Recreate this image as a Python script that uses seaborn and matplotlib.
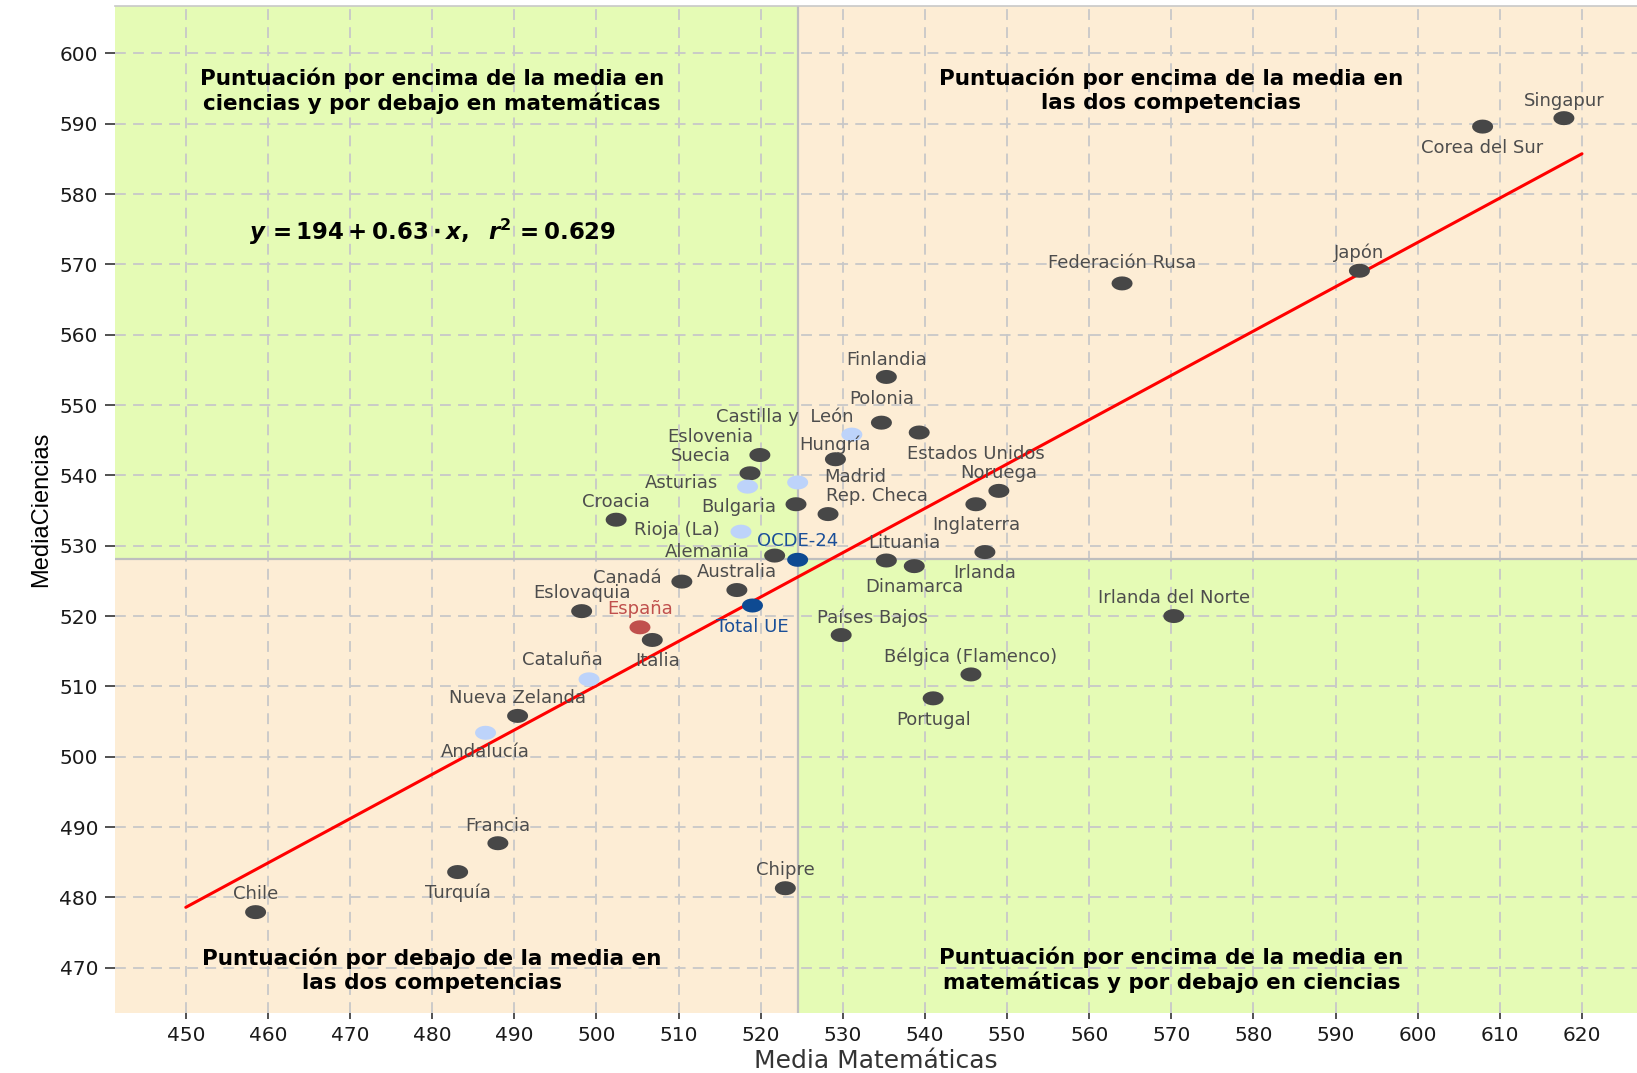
import numpy as np
import pandas as pd
import matplotlib
matplotlib.use('Agg')
import matplotlib.pyplot as plt
from matplotlib.path import Path
from matplotlib.patches import Rectangle
import seaborn as sns

# --- datos (TIMSS: media matemáticas / media ciencias) ---
paises = ['Singapur', 'Corea del Sur', 'Japón', 'Federación Rusa', 'Finlandia',
          'Polonia', 'Estados Unidos', 'Castilla y  León', 'Eslovenia', 'Hungría',
          'Suecia', 'Asturias', 'Madrid', 'Noruega', 'Inglaterra', 'Bulgaria',
          'Rep. Checa', 'Croacia', 'Rioja (La)', 'OCDE-24', 'Alemania', 'Lituania',
          'Irlanda', 'Dinamarca', 'Canadá', 'Australia', 'Eslovaquia',
          'Irlanda del Norte', 'Total UE', 'España', 'Italia', 'Países Bajos',
          'Cataluña', 'Bélgica (Flamenco)', 'Portugal', 'Nueva Zelanda', 'Andalucía',
          'Francia', 'Turquía', 'Chipre', 'Chile']
media_mat = [617.8, 607.9, 592.9, 564.0, 535.3, 534.7, 539.3, 531.1, 519.9, 529.1,
             518.7, 518.4, 524.5, 549.0, 546.2, 524.3, 528.2, 502.4, 517.6, 524.5,
             521.7, 535.3, 547.3, 538.7, 510.4, 517.1, 498.2, 570.3, 519.0, 505.3,
             506.8, 529.8, 499.1, 545.6, 541.0, 490.4, 486.5, 488.0, 483.1, 523.0,
             458.5]
media_cien = [590.8, 589.6, 569.1, 567.3, 554.0, 547.5, 546.1, 545.8, 542.9, 542.3,
              540.3, 538.4, 539.0, 537.8, 535.9, 535.9, 534.5, 533.7, 532.0, 528.0,
              528.6, 527.9, 529.1, 527.1, 524.9, 523.7, 520.7, 520.0, 521.5, 518.4,
              516.6, 517.3, 511.0, 511.7, 508.3, 505.8, 503.4, 487.7, 483.6, 481.3,
              477.9]
grupo = ['pais', 'pais', 'pais', 'pais', 'pais', 'pais', 'pais', 'region', 'pais', 'pais',
         'pais', 'region', 'region', 'pais', 'pais', 'pais', 'pais', 'pais', 'region', 'media',
         'pais', 'pais', 'pais', 'pais', 'pais', 'pais', 'pais', 'pais', 'media', 'espana',
         'pais', 'pais', 'region', 'pais', 'pais', 'pais', 'region', 'pais', 'pais', 'pais',
         'pais']

# recta de regresión y medias OCDE-24 (separación de cuadrantes)
intercepto = 194.95
pendiente = 0.6303
recta_x = [450, 620]
media_ref_mat = 524.5
media_ref_cien = 528.1

df = pd.DataFrame({'pais': paises, 'mat': media_mat, 'cien': media_cien, 'grupo': grupo})

colores = {'pais': '#474747', 'region': '#BDD3FA', 'espana': '#C0504D', 'media': '#0E4A92'}
col_texto = {'pais': '#4D4D4D', 'region': '#4D4D4D', 'espana': '#C0504D', 'media': '#1A4F98'}

# desplazamiento de etiquetas (pixeles)
desplaz = {
    'Singapur': (0, 17), 'Corea del Sur': (0, -21), 'Japón': (0, 18),
    'Federación Rusa': (0, 20), 'Finlandia': (0, 17), 'Polonia': (0, 24),
    'Estados Unidos': (57, -21), 'Castilla y  León': (-67, 18), 'Eslovenia': (-50, 18),
    'Hungría': (0, 14), 'Suecia': (-49, 17), 'Asturias': (-66, 4), 'Madrid': (58, 5),
    'Noruega': (0, 18), 'Inglaterra': (0, -21), 'Bulgaria': (-57, -3),
    'Rep. Checa': (49, 18), 'Croacia': (0, 18), 'Rioja (La)': (-64, 2),
    'OCDE-24': (0, 19), 'Alemania': (-67, 4), 'Lituania': (18, 18), 'Irlanda': (0, -21),
    'Dinamarca': (0, -21), 'Canadá': (-55, 4), 'Australia': (0, 18),
    'Eslovaquia': (0, 18), 'Irlanda del Norte': (0, 18), 'Total UE': (0, -21),
    'España': (0, 18), 'Italia': (5, -21), 'Países Bajos': (31, 17), 'Cataluña': (-27, 19),
    'Bélgica (Flamenco)': (0, 18), 'Portugal': (0, -22), 'Nueva Zelanda': (0, 18),
    'Andalucía': (0, -19), 'Francia': (0, 17), 'Turquía': (0, -21), 'Chipre': (0, 18),
    'Chile': (0, 18),
}

sns.set_theme(style='white')
plt.rcParams['font.family'] = ['DejaVu Sans']

fig = plt.figure(figsize=(16.37, 10.73), dpi=100)
ax = fig.add_axes([0.0701, 0.0562, 0.9299, 0.9379])

x0, x1 = 441.35, 626.7
y0, y1 = 463.6, 606.7

verde = '#E5FBB5'
melocoton = '#FDEDD5'
ax.add_patch(Rectangle((x0, media_ref_cien), media_ref_mat - x0, y1 - media_ref_cien, color=verde, zorder=0, lw=0))
ax.add_patch(Rectangle((media_ref_mat, media_ref_cien), x1 - media_ref_mat, y1 - media_ref_cien, color=melocoton, zorder=0, lw=0))
ax.add_patch(Rectangle((x0, y0), media_ref_mat - x0, media_ref_cien - y0, color=melocoton, zorder=0, lw=0))
ax.add_patch(Rectangle((media_ref_mat, y0), x1 - media_ref_mat, media_ref_cien - y0, color=verde, zorder=0, lw=0))

ax.set_axisbelow(True)
ax.grid(True, color='#C8C8C8', linestyle=(0, (6, 4)), linewidth=1.3)

ax.axvline(media_ref_mat, color='#BEBEBE', lw=1.6, zorder=1)
ax.axhline(media_ref_cien, color='#BEBEBE', lw=1.6, zorder=1)

rx = np.array(recta_x)
ax.plot(rx, intercepto + pendiente * rx, color='red', lw=2.2, zorder=2)

# marcador elíptico (la figura original está estirada en horizontal)
t = np.linspace(0, 2 * np.pi, 25)
elipse = Path(np.column_stack([1.5 * np.cos(t), np.sin(t)]), closed=True)

sns.scatterplot(data=df, x='mat', y='cien', hue='grupo', palette=colores,
                marker=elipse, s=230, edgecolor='none', linewidth=0,
                legend=False, ax=ax, zorder=3)

for _, r in df.iterrows():
    dx, dy = desplaz[r['pais']]
    ax.annotate(r['pais'], (r['mat'], r['cien']), xytext=(dx, dy),
                textcoords='offset pixels', ha='center', va='center',
                fontsize=13, color=col_texto[r['grupo']], zorder=4)

kw = dict(ha='center', va='center', fontsize=15.5, fontweight='bold',
          color='black', linespacing=1.25)
ax.text(480, 594.7, 'Puntuación por encima de la media en\nciencias y por debajo en matemáticas', **kw)
ax.text(570, 594.7, 'Puntuación por encima de la media en\nlas dos competencias', **kw)
ax.text(480, 469.7, 'Puntuación por debajo de la media en\nlas dos competencias', **kw)
ax.text(570, 469.7, 'Puntuación por encima de la media en\nmatemáticas y por debajo en ciencias', **kw)

ax.text(480, 574.6,
        r'$\mathbfit{y}\mathbf{\,=194+0.63\cdot}\mathbfit{x}\mathbf{,\ \ }\mathbfit{r}^{\mathbf{2}}\mathbf{\,=0.629}$',
        ha='center', va='center', fontsize=16.5, color='black')

ax.set_xlim(x0, x1)
ax.set_ylim(y0, y1)
ax.set_xticks(np.arange(450, 621, 10))
ax.set_yticks(np.arange(470, 601, 10))
ax.tick_params(axis='x', length=4.5, width=1.2, color='#333333', labelsize=14.5,
               labelcolor='#1A1A1A', pad=5, bottom=True)
ax.tick_params(axis='y', length=7, width=1.2, color='#333333', labelsize=14.5,
               labelcolor='#1A1A1A', pad=5, left=True)

for side in ['left', 'right', 'bottom']:
    ax.spines[side].set_visible(False)
ax.spines['top'].set_color('#C8C8C8')
ax.spines['top'].set_linewidth(1.2)

ax.set_xlabel('Media Matemáticas', fontsize=18, color='#333333', labelpad=3)
ax.set_ylabel('MediaCiencias', fontsize=17, color='black', labelpad=5,
              family='Liberation Sans')

fig.savefig('out.png', dpi=100)
plt.close(fig)
